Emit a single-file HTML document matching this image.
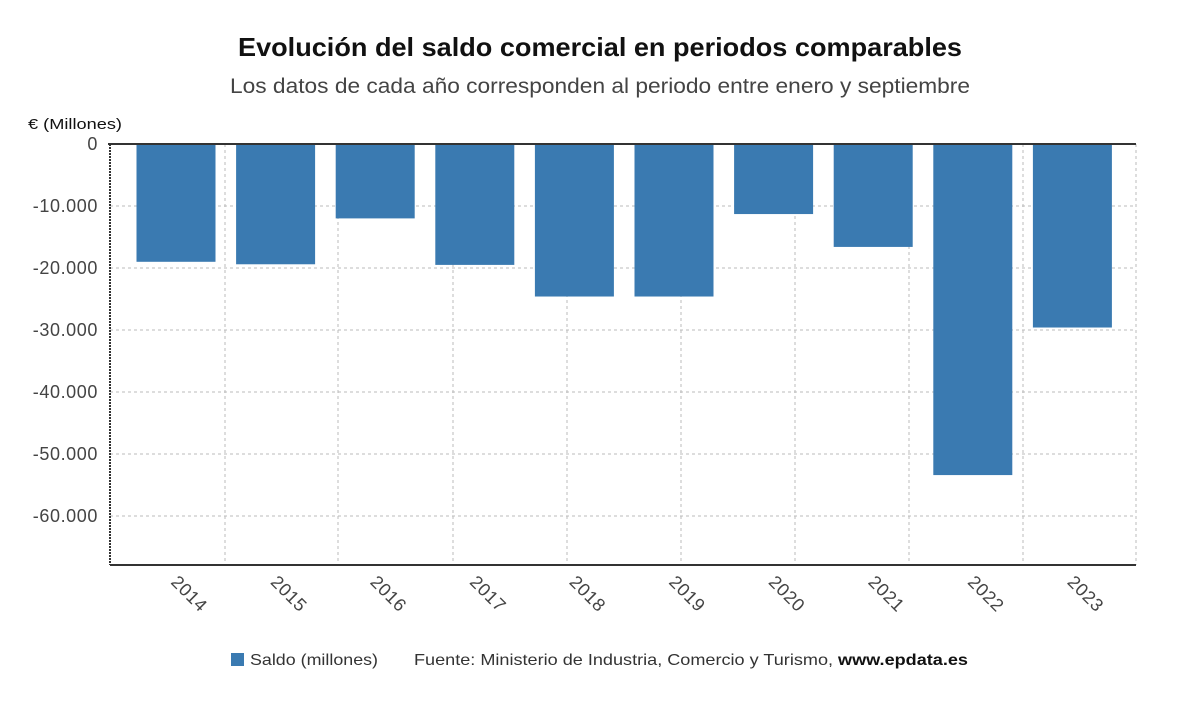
<!DOCTYPE html>
<html><head><meta charset="utf-8"><style>
body{margin:0;background:#fff;font-family:"Liberation Sans","DejaVu Sans",sans-serif;}
</style></head><body>
<svg id="chart" width="1200" height="705" xmlns="http://www.w3.org/2000/svg">
<text x="238" y="56" textLength="724" lengthAdjust="spacingAndGlyphs" font-size="26" font-weight="bold" fill="#111">Evolución del saldo comercial en periodos comparables</text>
<text x="230" y="93" textLength="740" lengthAdjust="spacingAndGlyphs" font-size="21" fill="#444">Los datos de cada año corresponden al periodo entre enero y septiembre</text>
<text x="28" y="129" textLength="94" lengthAdjust="spacingAndGlyphs" font-size="15" fill="#111">€ (Millones)</text>
<g id="grid"></g><g id="bars"></g><g id="axes"></g>
<g>
<rect x="231" y="653" width="13" height="13" fill="#3a7ab1"/>
<text x="250" y="665" textLength="128" lengthAdjust="spacingAndGlyphs" font-size="16" fill="#333">Saldo (millones)</text>
<text x="414" y="665" textLength="554" lengthAdjust="spacingAndGlyphs" font-size="16" fill="#333">Fuente: Ministerio de Industria, Comercio y Turismo, <tspan font-weight="bold" fill="#111">www.epdata.es</tspan></text>
</g>
</svg>
<script>
const categories=["2014","2015","2016","2017","2018","2019","2020","2021","2022","2023"];
const values=[-19000,-19400,-12000,-19500,-24600,-24600,-11300,-16600,-53400,-29600];
const yTicks=[0,-10000,-20000,-30000,-40000,-50000,-60000];
const yTickLabels=["0","-10.000","-20.000","-30.000","-40.000","-50.000","-60.000"];
const NS="http://www.w3.org/2000/svg";
const x0=125.5,band=99.6,barW=79,left=110,right=1136,bottom=565;
function yy(v){return 144+(-v)*0.0062;}
function xb(i){return x0+i*band;}
function mk(tag,attrs,parent){const e=document.createElementNS(NS,tag);for(const k in attrs)e.setAttribute(k,attrs[k]);parent.appendChild(e);return e;}
const grid=document.getElementById('grid'),bars=document.getElementById('bars'),axes=document.getElementById('axes');
yTicks.forEach((t,i)=>{
 const l=mk('line',{x1:left,x2:right,y1:yy(t),y2:yy(t),stroke:'#bbb','stroke-dasharray':'3,3'},grid);
 
 
 const tx=mk('text',{x:98,y:yy(t)+6,'text-anchor':'end','font-size':18,'letter-spacing':'0.6',fill:'#444'},axes);
 tx.textContent=yTickLabels[i];
 
 
});
[225,338,453,567,681,795,909,1023,1136].forEach(gx=>{
 const l=mk('line',{x1:gx,x2:gx,y1:144,y2:bottom,stroke:'#bbb','stroke-dasharray':'3,3'},grid);
 
 
});
categories.forEach((c,i)=>{
 const bx=xb(i)+11;
 const r=mk('rect',{x:bx,y:yy(0),width:barW,height:yy(values[i])-yy(0),fill:'#3a7ab1'},bars);
 
 
 const cx=bx+barW/2;
 const t=mk('text',{x:cx-6,y:bottom+18,'font-size':18,'letter-spacing':'0.6',fill:'#444',transform:`rotate(45 ${cx-6} ${bottom+18})`},axes);
 t.textContent=c;
 
 
});
const za=mk('line',{x1:108,x2:right,y1:144,y2:144,stroke:'#333','stroke-width':2},axes);


const ya=mk('line',{x1:left,x2:left,y1:144,y2:bottom,stroke:'#333','stroke-width':2,'stroke-dasharray':'2,1'},axes);


const xa=mk('line',{x1:left,x2:right,y1:bottom,y2:bottom,stroke:'#333','stroke-width':2},axes);


</script>
</body></html>
